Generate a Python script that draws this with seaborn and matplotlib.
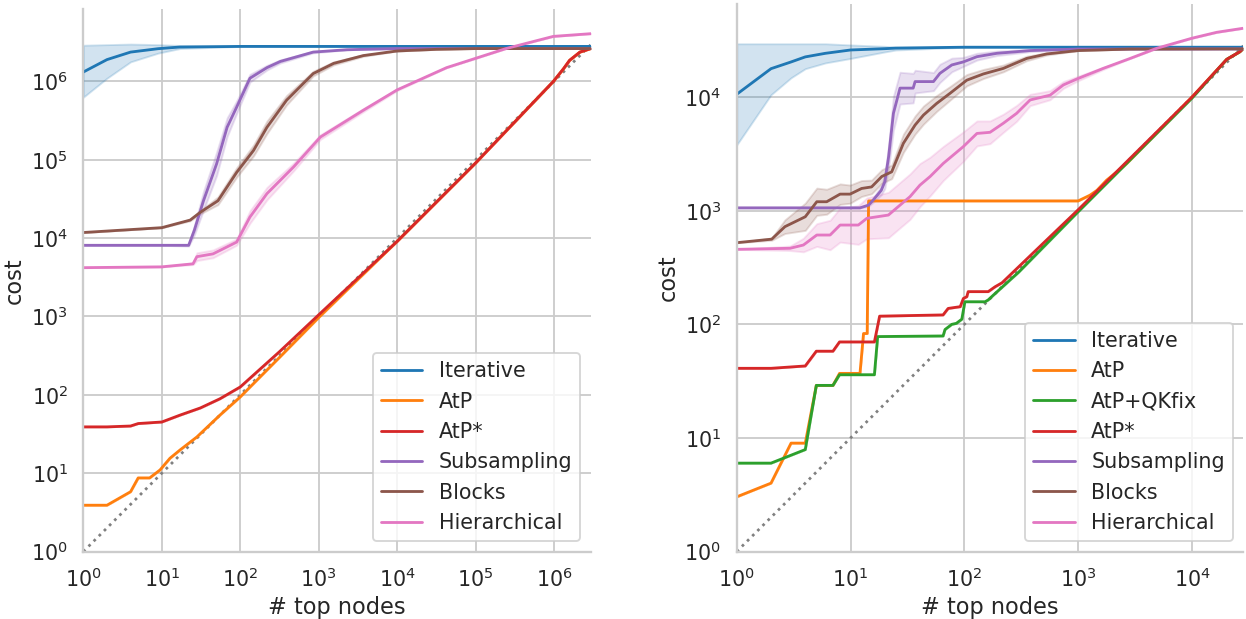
import numpy as np
import pandas as pd
import matplotlib
matplotlib.use("Agg")
import matplotlib.pyplot as plt
import seaborn as sns
from matplotlib.ticker import FixedLocator, LogFormatterSciNotation, NullLocator

sns.set_theme(style="whitegrid", context="talk")

palette = {
    "Iterative": "#1f77b4",
    "AtP": "#ff7f0e",
    "AtP+QKfix": "#2ca02c",
    "AtP*": "#d62728",
    "Subsampling": "#9467bd",
    "Blocks": "#8c564b",
    "Hierarchical": "#e377c2",
}

# ---------------- left panel ----------------
left_nmax = 2.94e6
left_ymax = 8.4e6
left_xticks = [1, 1e1, 1e2, 1e3, 1e4, 1e5, 1e6]
left_yticks = [1, 1e1, 1e2, 1e3, 1e4, 1e5, 1e6]

it_L_x = [1, 2, 4, 9, 17, 100, 1e3, 1e4, 1e5, 1e6, 2.94e6]
it_L_y = [1.32e6, 1.9e6, 2.37e6, 2.62e6, 2.75e6, 2.8e6, 2.8e6, 2.8e6, 2.8e6, 2.8e6, 2.8e6]
it_L_lo = [6.3e5, 1.1e6, 1.78e6, 2.3e6, 2.63e6, 2.8e6, 2.8e6, 2.8e6, 2.8e6, 2.8e6, 2.8e6]
it_L_hi = [2.9e6, 2.95e6, 3.0e6, 2.95e6, 2.88e6, 2.8e6, 2.8e6, 2.8e6, 2.8e6, 2.8e6, 2.8e6]

atp_L_x = [1, 2, 4, 5, 7, 9.5, 12.7, 17, 28, 55, 100, 316, 1000, 1e4, 1e5,
           9.8e5, 1.32e6, 1.58e6, 2.14e6, 2.94e6]
atp_L_y = [3.9, 3.9, 5.8, 8.7, 8.7, 11, 15.5, 19.7, 29, 55, 94, 300, 970, 9100, 9.1e4,
           1.0e6, 1.45e6, 1.86e6, 2.37e6, 2.63e6]

star_L_x = [1, 2, 4, 5, 10, 17, 31, 55, 100, 316, 1000, 1e4, 1e5,
            9.8e5, 1.32e6, 1.58e6, 2.14e6, 2.94e6]
star_L_y = [39, 39, 40, 43, 45, 55, 68, 89, 126, 355, 1050, 9100, 9.1e4,
            1.0e6, 1.45e6, 1.86e6, 2.37e6, 2.63e6]

sub_L_x = [1, 10, 22, 26, 34, 50, 68, 90, 133, 219, 324, 851, 2290, 1e4, 1e5, 1e6, 2.94e6]
sub_L_y = [8.1e3, 8.1e3, 8.1e3, 1.26e4, 3.0e4, 8.9e4, 2.6e5, 4.7e5, 1.1e6, 1.5e6, 1.8e6,
           2.37e6, 2.54e6, 2.63e6, 2.63e6, 2.63e6, 2.63e6]
sub_L_s = [0, 0, 0.01, 0.06, 0.12, 0.15, 0.12, 0.08, 0.05, 0.03, 0.02, 0.01, 0, 0, 0, 0, 0]

blk_L_x = [1, 10, 23, 31, 52, 90, 148, 219, 389, 851, 1550, 3720, 1e4, 3.16e4, 1e5, 1e6, 2.94e6]
blk_L_y = [1.18e4, 1.36e4, 1.7e4, 2.14e4, 3.0e4, 6.9e4, 1.32e5, 2.6e5, 5.75e5, 1.26e6, 1.7e6,
           2.14e6, 2.45e6, 2.57e6, 2.63e6, 2.63e6, 2.63e6]
blk_L_s = [0, 0, 0.01, 0.02, 0.05, 0.06, 0.07, 0.08, 0.06, 0.03, 0.02, 0.01, 0, 0, 0, 0, 0]

hier_L_x = [1, 10, 25, 28, 45, 90, 133, 219, 479, 1050, 3720, 1e4, 4.27e4, 2.45e5, 9.8e5, 2.94e6]
hier_L_y = [4.2e3, 4.3e3, 4.7e3, 5.8e3, 6.3e3, 8.9e3, 1.86e4, 3.7e4, 8.1e4, 1.95e5, 4.3e5,
            7.8e5, 1.5e6, 2.63e6, 3.76e6, 4.07e6]
hier_L_s = [0, 0, 0.01, 0.05, 0.05, 0.04, 0.08, 0.08, 0.05, 0.03, 0.02, 0.01, 0, 0, 0, 0]

# ---------------- right panel ----------------
right_nmax = 2.83e4
right_ymax = 6.6e4
right_xticks = [1, 1e1, 1e2, 1e3, 1e4]
right_yticks = [1, 1e1, 1e2, 1e3, 1e4]

it_R_x = [1, 2, 3, 4, 6, 10, 20, 25, 100, 1000, 2.83e4]
it_R_y = [1.06e4, 1.78e4, 2.04e4, 2.26e4, 2.43e4, 2.6e4, 2.67e4, 2.7e4, 2.75e4, 2.75e4, 2.75e4]
it_R_lo = [3.8e3, 1.05e4, 1.48e4, 1.78e4, 2.0e4, 2.19e4, 2.5e4, 2.6e4, 2.75e4, 2.75e4, 2.75e4]
it_R_hi = [2.95e4, 2.95e4, 2.95e4, 2.95e4, 2.95e4, 2.88e4, 2.8e4, 2.76e4, 2.75e4, 2.75e4, 2.75e4]

atp_R_x = [1, 2, 3, 4, 5, 7, 8, 12.1, 13, 14, 14.4, 1000, 1270, 1460, 1780, 2190, 2670,
           1e4, 2.02e4, 2.63e4, 2.83e4]
atp_R_y = [3.03, 4.0, 9.0, 9.0, 29, 29, 37, 37, 83, 83, 1.22e3, 1.22e3, 1.37e3, 1.51e3,
           1.86e3, 2.2e3, 2.61e3, 1.0e4, 2.15e4, 2.51e4, 2.69e4]

qk_R_x = [1, 2, 4, 5, 7, 8, 16.2, 17.3, 65, 67.6, 77.6, 85, 95, 101, 152, 162, 180, 300,
          1000, 1e4, 2.02e4, 2.63e4, 2.83e4]
qk_R_y = [6.0, 6.0, 7.9, 29, 29, 36, 36, 78, 79, 90, 100, 102, 111, 158, 158, 164, 181, 288,
          980, 9800, 2.15e4, 2.51e4, 2.69e4]

star_R_x = [1, 2, 4, 5, 7, 8, 16.2, 18, 65, 72, 92, 98, 105, 108, 162, 186, 214, 1000,
            1e4, 2.02e4, 2.63e4, 2.83e4]
star_R_y = [41, 41, 43, 58, 58, 70, 70, 118, 121, 138, 143, 169, 175, 194, 194, 214, 232,
            1020, 1.0e4, 2.15e4, 2.51e4, 2.69e4]

sub_R_x = [1, 12.1, 14.4, 15.8, 18.6, 20, 21.6, 23.8, 27.2, 35.5, 36.9, 53.5, 61, 77.6,
           97.7, 129, 193, 378, 1000, 2.83e4]
sub_R_y = [1.06e3, 1.06e3, 1.12e3, 1.24e3, 1.51e3, 1.8e3, 2.99e3, 7.2e3, 1.2e4, 1.2e4,
           1.37e4, 1.37e4, 1.62e4, 1.92e4, 2.04e4, 2.27e4, 2.43e4, 2.57e4, 2.65e4, 2.66e4]
sub_R_s = [0, 0, 0.01, 0.02, 0.04, 0.06, 0.1, 0.15, 0.14, 0.13, 0.1, 0.08, 0.08, 0.06,
           0.04, 0.03, 0.02, 0.01, 0, 0]

blk_R_x = [1, 2.03, 2.65, 4, 5.05, 6.17, 8.09, 9.9, 12.5, 15.3, 18.8, 23, 29.1, 36.9, 43.7,
           57.1, 74.8, 105, 147, 220, 353, 530, 1000, 2860, 2.83e4]
blk_R_y = [523, 562, 724, 885, 1.2e3, 1.2e3, 1.4e3, 1.4e3, 1.57e3, 1.62e3, 2.0e3, 2.2e3,
           3.92e3, 5.68e3, 6.95e3, 8.8e3, 1.08e4, 1.41e4, 1.6e4, 1.79e4, 2.19e4, 2.4e4,
           2.57e4, 2.65e4, 2.66e4]
blk_R_s = [0, 0.01, 0.06, 0.12, 0.12, 0.11, 0.09, 0.08, 0.07, 0.06, 0.06, 0.06, 0.08, 0.08,
           0.08, 0.07, 0.06, 0.05, 0.04, 0.03, 0.02, 0.01, 0, 0, 0]

hier_R_x = [1, 2.94, 3.85, 5.05, 6.61, 8.09, 11.7, 13.9, 21.5, 27.2, 33.3, 40.7, 50, 65.3,
            97.7, 129, 168, 220, 288, 378, 566, 741, 1000, 1660, 2860, 4900, 1e4, 1.65e4,
            2.83e4]
hier_R_y = [457, 467, 499, 611, 611, 748, 748, 857, 916, 1.12e3, 1.33e3, 1.68e3, 2.0e3,
            2.61e3, 3.66e3, 4.79e3, 4.9e3, 5.89e3, 7.2e3, 9.44e3, 1.04e4, 1.28e4, 1.46e4,
            1.79e4, 2.19e4, 2.69e4, 3.3e4, 3.72e4, 4.04e4]
hier_R_s = [0, 0.02, 0.06, 0.1, 0.13, 0.15, 0.17, 0.18, 0.2, 0.2, 0.2, 0.19, 0.17, 0.15,
            0.13, 0.11, 0.1, 0.08, 0.07, 0.05, 0.04, 0.03, 0.02, 0.01, 0, 0, 0, 0, 0]


def spread(y, s):
    y = np.asarray(y, float)
    s = np.asarray(s, float)
    return y / 10 ** s, y * 10 ** s


def to_long(curves):
    frames = []
    for name, (x, y, lo, hi) in curves.items():
        for v in (lo, y, hi):
            frames.append(pd.DataFrame({"nodes": x, "cost": v, "method": name}))
    return pd.concat(frames, ignore_index=True)


left_curves = {
    "Iterative": (it_L_x, it_L_y, it_L_lo, it_L_hi),
    "AtP": (atp_L_x, atp_L_y, atp_L_y, atp_L_y),
    "AtP*": (star_L_x, star_L_y, star_L_y, star_L_y),
    "Subsampling": (sub_L_x, sub_L_y, *spread(sub_L_y, sub_L_s)),
    "Blocks": (blk_L_x, blk_L_y, *spread(blk_L_y, blk_L_s)),
    "Hierarchical": (hier_L_x, hier_L_y, *spread(hier_L_y, hier_L_s)),
}
right_curves = {
    "Iterative": (it_R_x, it_R_y, it_R_lo, it_R_hi),
    "AtP": (atp_R_x, atp_R_y, atp_R_y, atp_R_y),
    "AtP+QKfix": (qk_R_x, qk_R_y, qk_R_y, qk_R_y),
    "AtP*": (star_R_x, star_R_y, star_R_y, star_R_y),
    "Subsampling": (sub_R_x, sub_R_y, *spread(sub_R_y, sub_R_s)),
    "Blocks": (blk_R_x, blk_R_y, *spread(blk_R_y, blk_R_s)),
    "Hierarchical": (hier_R_x, hier_R_y, *spread(hier_R_y, hier_R_s)),
}

fig = plt.figure(figsize=(1246 / 90, 619 / 90), dpi=90)
ax_l = fig.add_axes([0.0669, 0.109, 0.4072, 0.8764])
ax_r = fig.add_axes([0.5913, 0.109, 0.4066, 0.8845])

panels = [
    (ax_l, left_curves, left_nmax, left_ymax, left_xticks, left_yticks),
    (ax_r, right_curves, right_nmax, right_ymax, right_xticks, right_yticks),
]
for ax, curves, nmax, ymax, xt, yt in panels:
    ax.set_xscale("log")
    ax.set_yscale("log")
    diag = [1, nmax]
    ax.plot(diag, diag, ls=":", color="gray", lw=2.2, zorder=1)
    df = to_long(curves)
    sns.lineplot(data=df, x="nodes", y="cost", hue="method", hue_order=list(curves),
                 palette=palette, estimator="median", errorbar=("pi", 100),
                 lw=2.25, ax=ax)
    ax.set_xlim(1, nmax)
    ax.set_ylim(1, ymax)
    ax.xaxis.set_major_locator(FixedLocator(xt))
    ax.yaxis.set_major_locator(FixedLocator(yt))
    ax.xaxis.set_major_formatter(LogFormatterSciNotation())
    ax.yaxis.set_major_formatter(LogFormatterSciNotation())
    ax.xaxis.set_minor_locator(NullLocator())
    ax.yaxis.set_minor_locator(NullLocator())
    ax.set_xlabel("# top nodes")
    ax.set_ylabel("cost")
    old = ax.get_legend()
    handles = old.legend_handles
    labels = [t.get_text() for t in old.get_texts()]
    ax.legend(handles, labels, loc="lower right")
    sns.despine(ax=ax)

fig.savefig("out.png", dpi=90)
